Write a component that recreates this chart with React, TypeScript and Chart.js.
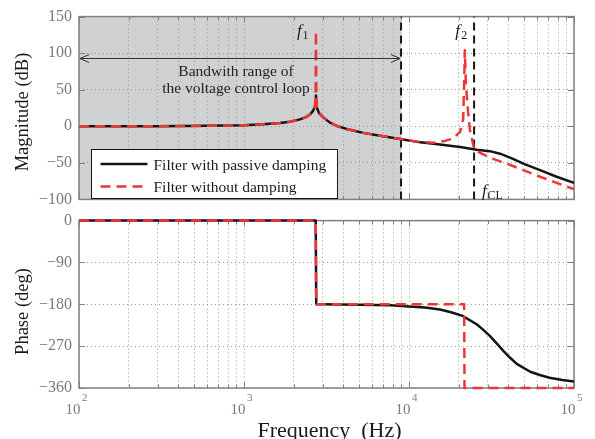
import React, { useEffect, useRef } from 'react';
import { Chart, registerables } from 'chart.js';

Chart.register(...registerables);

const FONT = "'Liberation Serif', 'Times New Roman', serif";

// ---- series names ----
const SERIES_DAMPED = 'Filter with passive damping';
const SERIES_UNDAMPED = 'Filter without damping';

// ---- axes ----
const FREQ_MIN = 100;
const FREQ_MAX = 100000;
const MAG_MIN = -100;
const MAG_MAX = 150;
const MAG_STEP = 50;
const PHASE_MIN = -360;
const PHASE_MAX = 0;
const PHASE_STEP = 90;
const DECADES = [100, 1000, 10000, 100000];
const DECADE_BASE = '10';
const DECADE_EXPONENTS = ['2', '3', '4', '5'];
const X_GRID = [
  100, 200, 300, 400, 500, 600, 700, 800, 900,
  1000, 2000, 3000, 4000, 5000, 6000, 7000, 8000, 9000,
  10000, 20000, 30000, 40000, 50000, 60000, 70000, 80000, 90000,
  100000,
];

// ---- key frequencies (Hz) ----
const F_BANDWIDTH = 8950;
const F_CL = 24800;
const F1 = 2730;
const F2 = 21800;

// ---- texts ----
const MAG_TITLE = 'Magnitude (dB)';
const PHASE_TITLE = 'Phase (deg)';
const FREQ_TITLE = 'Frequency  (Hz)';
const NOTE_LINE1 = 'Bandwith range of';
const NOTE_LINE2 = 'the voltage control loop';

// ---- magnitude (dB) ----
const magFreqDamped = [100, 300, 600, 1000, 1300, 1650, 1900, 2180, 2400, 2510, 2620, 2690, 2720, 2730, 2740, 2770, 2850, 3030, 3320, 3700, 4190, 5280, 6670, 8820, 11700, 15400, 20400, 25700, 30900, 35600, 42000, 49300, 62200, 78500, 100000];
const magDamped = [0, 0.1, 0.6, 1.5, 2.8, 4.5, 6.2, 9.4, 13, 16, 21, 27, 33, 42, 30, 25, 18, 12, 5, 0, -3.6, -9, -13, -17.5, -22, -25, -28.4, -32, -34, -37.5, -44, -51, -60, -69, -77.5];

const magFreqUndamped = [100, 300, 600, 1000, 1300, 1650, 1900, 2180, 2400, 2510, 2620, 2690, 2715, 2730, 2745, 2770, 2850, 3030, 3320, 3700, 4190, 5280, 6670, 8820, 11700, 14000, 16500, 18500, 20400, 21300, 21600, 21800, 22100, 22800, 23400, 24100, 24900, 30900, 39100, 49300, 62200, 78500, 100000];
const magUndamped = [0, 0.1, 0.6, 1.5, 2.8, 4.5, 6.2, 9.4, 13, 16, 21, 28, 40, 130, 40, 25, 18, 12, 5, 0, -3.6, -9, -13, -17.5, -21.5, -22.5, -20, -16.7, -7.6, 10, 60, 104, 60, 20, -5, -18, -32, -43, -51, -60, -69, -77.5, -86];

// ---- phase (deg) ----
const phaseFreqDamped = [100, 1000, 2720, 2740, 3000, 5000, 7670, 10000, 12500, 15400, 18000, 21100, 25700, 28000, 30900, 34000, 37300, 41000, 45000, 54300, 62000, 71000, 85000, 100000];
const phaseDamped = [0, 0, 0, -180, -180, -181, -182, -184.5, -187, -191, -197, -205, -223, -234, -248, -264, -280, -295, -308, -325, -332, -338, -343, -346];

const phaseFreqUndamped = [100, 2720, 2740, 21600, 21700, 100000];
const phaseUndamped = [0, 0, -180, -180, -360, -360];

// ---- styles ----
const BLACK = '#151515';
const RED = '#ee3636';
const RED_DASH = [10, 6];
const VLINE_DASH = [8, 5];
const GRID_COLOR = '#9a9a9a';
const AXIS_COLOR = '#808080';
const TICK_COLOR = '#7a7a7a';
const TEXT_COLOR = '#1a1a1a';
const SHADE = '#d0d1d3';

const pairs = (xs: number[], ys: number[]) => xs.map((x, i) => ({ x, y: ys[i] }));
const minus = (v: number) => String(v).replace('-', '\u2212');

function drawFrame(chart: any) {
  const { ctx, chartArea: a, scales } = chart;
  ctx.save();
  ctx.strokeStyle = AXIS_COLOR;
  ctx.lineWidth = 1;
  ctx.setLineDash([]);
  ctx.beginPath();
  for (const t of scales.x.ticks) {
    const px = Math.round(scales.x.getPixelForValue(t.value)) + 0.5;
    const len = DECADES.includes(t.value) ? 6 : 3.5;
    ctx.moveTo(px, a.bottom);
    ctx.lineTo(px, a.bottom - len);
    ctx.moveTo(px, a.top);
    ctx.lineTo(px, a.top + len);
  }
  for (const t of scales.y.ticks) {
    const py = Math.round(scales.y.getPixelForValue(t.value)) + 0.5;
    ctx.moveTo(a.left, py);
    ctx.lineTo(a.left + 6, py);
    ctx.moveTo(a.right, py);
    ctx.lineTo(a.right - 6, py);
  }
  ctx.stroke();
  ctx.lineWidth = 1.5;
  ctx.strokeRect(a.left, a.top, a.right - a.left, a.bottom - a.top);
  ctx.restore();
}

function drawText(ctx: any, s: string, x: number, y: number, font: string, color: string, align = 'left') {
  ctx.font = font;
  ctx.fillStyle = color;
  ctx.textAlign = align;
  ctx.textBaseline = 'alphabetic';
  ctx.fillText(s, x, y);
}

function drawYTitle(ctx: any, s: string, cx: number, cy: number) {
  ctx.save();
  ctx.translate(cx, cy);
  ctx.rotate(-Math.PI / 2);
  ctx.font = `18.5px ${FONT}`;
  ctx.fillStyle = TEXT_COLOR;
  ctx.textAlign = 'center';
  ctx.textBaseline = 'middle';
  ctx.fillText(s, 0, 0);
  ctx.restore();
}

const frameTicks = {
  id: 'frameTicks',
  beforeDatasetsDraw(chart: any) {
    drawFrame(chart);
  },
};

const topDecor = {
  id: 'topDecor',
  beforeDraw(chart: any) {
    const { ctx, chartArea: a, scales } = chart;
    const xe = scales.x.getPixelForValue(F_BANDWIDTH);
    ctx.save();
    ctx.fillStyle = SHADE;
    ctx.fillRect(a.left, a.top, xe - a.left, a.bottom - a.top);
    ctx.restore();
  },
  afterDatasetsDraw(chart: any) {
    const { ctx, chartArea: a, scales } = chart;
    const xs = scales.x;
    const ys = scales.y;
    ctx.save();

    // bandwidth arrow
    const ay = Math.round(ys.getPixelForValue(94)) + 0.5;
    const x0 = a.left + 1;
    const x1 = xs.getPixelForValue(F_BANDWIDTH) - 1;
    ctx.strokeStyle = '#333';
    ctx.lineWidth = 1;
    ctx.setLineDash([]);
    ctx.beginPath();
    ctx.moveTo(x0, ay);
    ctx.lineTo(x1, ay);
    ctx.moveTo(x0 + 9, ay - 4);
    ctx.lineTo(x0, ay);
    ctx.lineTo(x0 + 9, ay + 4);
    ctx.moveTo(x1 - 9, ay - 4);
    ctx.lineTo(x1, ay);
    ctx.lineTo(x1 - 9, ay + 4);
    ctx.stroke();

    // note text
    const nx = xs.getPixelForValue(894);
    drawText(ctx, NOTE_LINE1, nx, ys.getPixelForValue(69.3), `15.5px ${FONT}`, '#222', 'center');
    drawText(ctx, NOTE_LINE2, nx, ys.getPixelForValue(44.9), `15.5px ${FONT}`, '#222', 'center');

    // f labels
    const fItal = `italic 17px ${FONT}`;
    const fSub = `12px ${FONT}`;
    const p1 = xs.getPixelForValue(F1);
    drawText(ctx, 'f', p1 - 19, 35.5, fItal, TEXT_COLOR);
    drawText(ctx, '1', p1 - 13.5, 39, fSub, TEXT_COLOR);
    const p2 = xs.getPixelForValue(F2);
    drawText(ctx, 'f', p2 - 9.5, 35.5, fItal, TEXT_COLOR);
    drawText(ctx, '2', p2 - 3.5, 39, fSub, TEXT_COLOR);
    const pc = xs.getPixelForValue(F_CL);
    drawText(ctx, 'f', pc + 8, 195.5, fItal, TEXT_COLOR);
    drawText(ctx, 'CL', pc + 13.5, 198.5, fSub, TEXT_COLOR);

    // legend
    const lx = Math.round(a.left + 12) + 0.5;
    const ly = Math.round(a.top + 132) + 0.5;
    ctx.fillStyle = '#ffffff';
    ctx.fillRect(lx, ly, 246, 49);
    ctx.strokeStyle = BLACK;
    ctx.lineWidth = 1;
    ctx.strokeRect(lx, ly, 246, 49);
    ctx.lineWidth = 2.5;
    ctx.strokeStyle = BLACK;
    ctx.beginPath();
    ctx.moveTo(lx + 9, ly + 14.5);
    ctx.lineTo(lx + 56, ly + 14.5);
    ctx.stroke();
    ctx.strokeStyle = RED;
    ctx.setLineDash(RED_DASH);
    ctx.beginPath();
    ctx.moveTo(lx + 9, ly + 37);
    ctx.lineTo(lx + 56, ly + 37);
    ctx.stroke();
    ctx.setLineDash([]);
    drawText(ctx, SERIES_DAMPED, lx + 62, ly + 20, `15.5px ${FONT}`, TEXT_COLOR);
    drawText(ctx, SERIES_UNDAMPED, lx + 62, ly + 42.5, `15.5px ${FONT}`, TEXT_COLOR);

    ctx.restore();
  },
  afterDraw(chart: any) {
    drawYTitle(chart.ctx, MAG_TITLE, 23.5, 112);
  },
};

const bottomDecor = {
  id: 'bottomDecor',
  afterDraw(chart: any) {
    const { ctx, chartArea: a, scales } = chart;
    ctx.save();
    DECADES.forEach((v, i) => {
      const px = scales.x.getPixelForValue(v);
      drawText(ctx, DECADE_BASE, px + 1.5, a.bottom + 25.5, `15px ${FONT}`, TICK_COLOR, 'right');
      drawText(ctx, DECADE_EXPONENTS[i], px + 3, a.bottom + 13, `11px ${FONT}`, TICK_COLOR, 'left');
    });
    drawText(ctx, FREQ_TITLE, (a.left + a.right) / 2 + 3, a.bottom + 48.5, `22px ${FONT}`, TEXT_COLOR, 'center');
    drawYTitle(ctx, PHASE_TITLE, 23.5, 107.5);
    ctx.restore();
  },
};

function xScale(height: number) {
  return {
    type: 'logarithmic',
    min: FREQ_MIN,
    max: FREQ_MAX,
    afterBuildTicks: (s: any) => {
      s.ticks = X_GRID.map((v) => ({ value: v }));
    },
    ticks: { display: false },
    grid: { color: GRID_COLOR, lineWidth: 1, drawTicks: false },
    border: { display: false, dash: [1, 3] },
    afterFit: (s: any) => {
      s.height = height;
    },
  };
}

function yScale(min: number, max: number, step: number) {
  return {
    type: 'linear',
    min,
    max,
    ticks: {
      stepSize: step,
      color: TICK_COLOR,
      font: { family: FONT, size: 16 },
      padding: 7,
      callback: (v: any) => minus(v),
    },
    grid: { color: GRID_COLOR, lineWidth: 1, drawTicks: false },
    border: { display: false, dash: [1, 3] },
    afterFit: (s: any) => {
      s.width = 79;
    },
  };
}

const lineDefaults = { pointRadius: 0, tension: 0, fill: false, borderJoinStyle: 'round', clip: 5 };

export default function App() {
  const topRef = useRef<HTMLCanvasElement>(null);
  const botRef = useRef<HTMLCanvasElement>(null);

  useEffect(() => {
    Chart.defaults.font.family = FONT;
    const top = new Chart(topRef.current as any, {
      type: 'line',
      data: {
        datasets: [
          { ...lineDefaults, label: SERIES_UNDAMPED, data: pairs(magFreqUndamped, magUndamped), borderColor: RED, borderWidth: 2.5, borderDash: RED_DASH, order: 0 },
          { ...lineDefaults, label: SERIES_DAMPED, data: pairs(magFreqDamped, magDamped), borderColor: BLACK, borderWidth: 2.5, order: 1 },
          { ...lineDefaults, label: 'bandwidth', data: [{ x: F_BANDWIDTH, y: MAG_MIN }, { x: F_BANDWIDTH, y: MAG_MAX }], borderColor: BLACK, borderWidth: 2, borderDash: VLINE_DASH, order: 2, clip: 0 },
          { ...lineDefaults, label: 'fCL', data: [{ x: F_CL, y: MAG_MIN }, { x: F_CL, y: MAG_MAX }], borderColor: BLACK, borderWidth: 2, borderDash: VLINE_DASH, order: 2, clip: 0 },
        ],
      } as any,
      options: {
        responsive: false,
        animation: false,
        devicePixelRatio: 1,
        layout: { padding: { top: 12, right: 21, left: 0, bottom: 0 } },
        plugins: { legend: { display: false }, tooltip: { enabled: false } },
        scales: { x: xScale(12), y: yScale(MAG_MIN, MAG_MAX, MAG_STEP) },
      } as any,
      plugins: [frameTicks, topDecor],
    });

    const bot = new Chart(botRef.current as any, {
      type: 'line',
      data: {
        datasets: [
          { ...lineDefaults, label: SERIES_UNDAMPED, data: pairs(phaseFreqUndamped, phaseUndamped), borderColor: RED, borderWidth: 2.5, borderDash: RED_DASH, order: 0 },
          { ...lineDefaults, label: SERIES_DAMPED, data: pairs(phaseFreqDamped, phaseDamped), borderColor: BLACK, borderWidth: 2.5, order: 1 },
        ],
      } as any,
      options: {
        responsive: false,
        animation: false,
        devicePixelRatio: 1,
        layout: { padding: { top: 14, right: 21, left: 0, bottom: 0 } },
        plugins: { legend: { display: false }, tooltip: { enabled: false } },
        scales: { x: xScale(51), y: yScale(PHASE_MIN, PHASE_MAX, PHASE_STEP) },
      } as any,
      plugins: [frameTicks, bottomDecor],
    });

    return () => {
      top.destroy();
      bot.destroy();
    };
  }, []);

  return (
    <div style={{ position: 'fixed', left: 0, top: 0, width: 595, height: 439, background: '#ffffff', overflow: 'hidden' }}>
      <canvas ref={topRef} width={595} height={216} style={{ position: 'absolute', left: 0, top: 0, width: 595, height: 216 }} />
      <canvas ref={botRef} width={595} height={235} style={{ position: 'absolute', left: 0, top: 204, width: 595, height: 235 }} />
    </div>
  );
}
